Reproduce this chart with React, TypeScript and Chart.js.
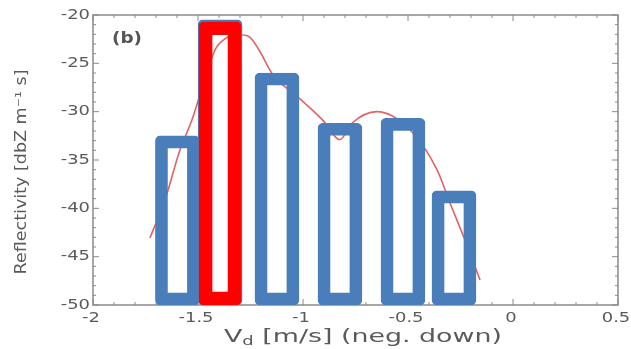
import React, { useEffect, useRef } from "react";
import { Chart, registerables } from "chart.js";

Chart.register(...registerables);

// Blue bars: velocity centres (m/s) and reflectivity tops (dBZ)
const blueX = [-1.598, -1.395, -1.124, -0.824, -0.524, -0.281];
const blueY = [-32.5, -20.5, -26.0, -31.2, -30.7, -38.2];
// Highlighted (red) bar
const redX = [-1.395];
const redY = [-20.7];
// Smooth reflectivity curve
const curveX = [-1.729, -1.657, -1.586, -1.529, -1.476, -1.419, -1.37, -1.31, -1.26, -1.21, -1.143, -1.029, -0.905, -0.824, -0.767, -0.648, -0.49, -0.362, -0.3, -0.229, -0.157];
const curveY = [-43.07, -39.1, -33.97, -30.86, -27.24, -23.6, -22.45, -22.05, -22.2, -23.6, -26.2, -28.4, -30.9, -32.9, -31.2, -30.0, -31.9, -36.0, -39.45, -43.27, -47.41];
const xTicks = [-2, -1.5, -1, -0.5, 0, 0.5];
const yTicks = [-50, -45, -40, -35, -30, -25, -20];
const xTitleMain = "V";
const xTitleSub = "d";
const xTitleRest = " [m/s] (neg. down)";
const yTitle = "Reflectivity [dbZ m\u207B\u00B9 s]";
const panelLabel = "(b)";

const GREY = "#5a5a5a";
const FONT = "'DejaVu Sans'";

function drawStretched(ctx: any, text: string, x: number, y: number, sx: number, align: string) {
  ctx.save();
  ctx.translate(x, y);
  ctx.scale(sx, 1);
  ctx.textAlign = align;
  ctx.fillText(text, 0, 0);
  ctx.restore();
}

const decorPlugin = {
  id: "decor",
  beforeDatasetsDraw(chart: any) {
    const { ctx, chartArea: a, scales } = chart;
    const xs = scales.x;
    const ys = scales.y;
    ctx.save();
    ctx.strokeStyle = "#8a8a8a";
    ctx.lineWidth = 1.5;
    ctx.strokeRect(a.left, a.top, a.right - a.left, a.bottom - a.top);
    ctx.lineWidth = 1;
    for (let i = 0; i <= 25; i++) {
      const px = xs.getPixelForValue(-2 + i * 0.1);
      const len = i % 5 === 0 ? 6 : 3;
      ctx.beginPath();
      ctx.moveTo(px, a.bottom);
      ctx.lineTo(px, a.bottom - len);
      ctx.moveTo(px, a.top);
      ctx.lineTo(px, a.top + len);
      ctx.stroke();
    }
    for (let i = 0; i <= 30; i++) {
      const py = ys.getPixelForValue(-50 + i);
      const len = i % 5 === 0 ? 6 : 3;
      ctx.beginPath();
      ctx.moveTo(a.left, py);
      ctx.lineTo(a.left + len, py);
      ctx.moveTo(a.right, py);
      ctx.lineTo(a.right - len, py);
      ctx.stroke();
    }
    ctx.restore();
  },
  afterDraw(chart: any) {
    const { ctx, chartArea: a, scales } = chart;
    const xs = scales.x;
    const ys = scales.y;
    ctx.save();
    ctx.fillStyle = GREY;
    ctx.font = `14px ${FONT}`;
    ctx.textBaseline = "middle";
    for (const v of xTicks) {
      const px = xs.getPixelForValue(v);
      drawStretched(ctx, String(v), px - 2, a.bottom + 13, 1.28, "center");
    }
    for (const v of yTicks) {
      const py = ys.getPixelForValue(v);
      drawStretched(ctx, String(v), a.left - 3, py, 1.28, "right");
    }
    ctx.fillStyle = "#555";
    ctx.font = `bold 16px ${FONT}`;
    ctx.textBaseline = "middle";
    const wb = ctx.measureText(panelLabel).width;
    drawStretched(ctx, panelLabel, a.left + 19, a.top + 24, 30 / wb, "left");
    ctx.fillStyle = GREY;
    ctx.textBaseline = "alphabetic";
    const big = `18px ${FONT}`;
    const small = `12px ${FONT}`;
    ctx.font = big;
    const wV = ctx.measureText(xTitleMain).width;
    const wRest = ctx.measureText(xTitleRest).width;
    ctx.font = small;
    const wd = ctx.measureText(xTitleSub).width;
    const total = wV + wd + wRest;
    const targetW = 278;
    const sx = targetW / total;
    ctx.save();
    ctx.translate(363 - targetW / 2, 342);
    ctx.scale(sx, 1);
    ctx.textAlign = "left";
    ctx.font = big;
    ctx.fillText(xTitleMain, 0, 0);
    ctx.font = small;
    ctx.fillText(xTitleSub, wV, 3);
    ctx.font = big;
    ctx.fillText(xTitleRest, wV + wd, 0);
    ctx.restore();
    ctx.save();
    ctx.translate(22, 172);
    ctx.rotate(-Math.PI / 2);
    ctx.font = `15px ${FONT}`;
    ctx.textBaseline = "middle";
    const wy = ctx.measureText(yTitle).width;
    ctx.scale(205 / wy, 1);
    ctx.textAlign = "center";
    ctx.fillText(yTitle, 0, 0);
    ctx.restore();
    ctx.restore();
  },
};

export default function App() {
  const ref = useRef<HTMLCanvasElement>(null);
  useEffect(() => {
    if (!ref.current) return;
    const chart = new Chart(ref.current, {
      type: "bar",
      data: {
        datasets: [
          {
            type: "line",
            data: curveX.map((x, i) => ({ x, y: curveY[i] })),
            borderColor: "rgba(222,70,70,0.85)",
            borderWidth: 1.6,
            pointRadius: 0,
            cubicInterpolationMode: "monotone",
            order: 3,
          } as any,
          {
            type: "bar",
            data: blueX.map((x, i) => ({ x, y: blueY[i] })),
            base: -50,
            backgroundColor: "rgba(0,0,0,0)",
            borderColor: "#4a7ebb",
            borderWidth: 12,
            borderSkipped: false,
            borderRadius: 5,
            barThickness: 44,
            grouped: false,
            order: 2,
          } as any,
          {
            type: "bar",
            data: redX.map((x, i) => ({ x, y: redY[i] })),
            base: -50,
            backgroundColor: "rgba(0,0,0,0)",
            borderColor: "#ff0000",
            borderWidth: 13,
            borderSkipped: false,
            borderRadius: 5,
            barThickness: 42,
            grouped: false,
            order: 1,
          } as any,
        ],
      },
      options: {
        animation: false,
        responsive: false,
        layout: { padding: { top: 15, right: 13, left: 0, bottom: 0 } },
        plugins: { legend: { display: false }, tooltip: { enabled: false } },
        scales: {
          x: {
            type: "linear",
            min: -2,
            max: 0.5,
            offset: false,
            afterFit: (s: any) => {
              s.height = 44;
            },
            grid: { display: false, drawTicks: false },
            border: { display: false },
            ticks: { display: false },
          },
          y: {
            type: "linear",
            min: -50,
            max: -20,
            afterFit: (s: any) => {
              s.width = 93;
            },
            grid: { display: false, drawTicks: false },
            border: { display: false },
            ticks: { display: false },
          },
        },
      },
      plugins: [decorPlugin],
    } as any);
    return () => chart.destroy();
  }, []);
  return (
    <div style={{ position: "fixed", left: 0, top: 0, width: 631, height: 349, background: "#fff" }}>
      <canvas ref={ref} width={631} height={349} style={{ width: 631, height: 349 }} />
    </div>
  );
}
